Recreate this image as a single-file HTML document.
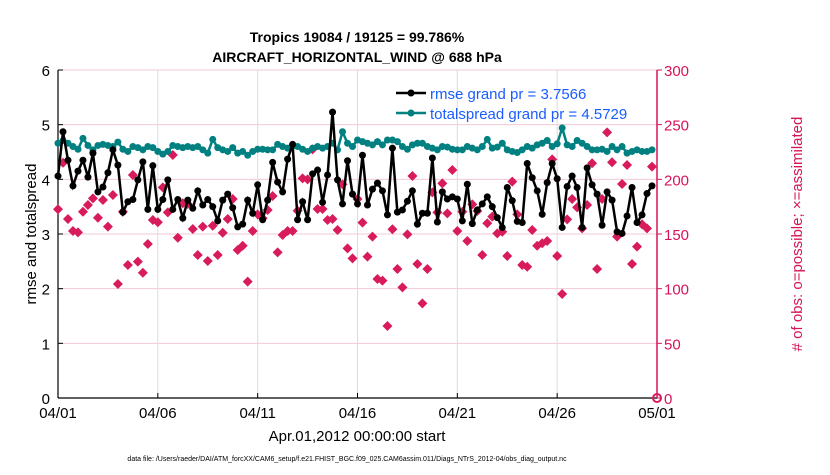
<!DOCTYPE html>
<html><head><meta charset="utf-8"><style>
body{margin:0;background:#fff;font-family:"Liberation Sans",sans-serif}
svg text{font-family:"Liberation Sans",sans-serif}
</style></head><body>
<svg id="c" width="830" height="470" viewBox="0 0 830 470" xmlns="http://www.w3.org/2000/svg">
<text x="357" y="42" text-anchor="middle" font-size="14" font-weight="bold">Tropics 19084 / 19125 = 99.786%</text>
<text x="357" y="62" text-anchor="middle" font-size="14" font-weight="bold">AIRCRAFT_HORIZONTAL_WIND @ 688 hPa</text>
<g id="grid"></g><g id="axes"></g><g id="series"></g>
<text x="357" y="441" text-anchor="middle" font-size="15">Apr.01,2012 00:00:00 start</text>
<text transform="translate(36,234) rotate(-90)" text-anchor="middle" font-size="15">rmse and totalspread</text>
<text transform="translate(802,234) rotate(-90)" text-anchor="middle" font-size="15" fill="#d6145a"># of obs: o=possible; ×=assimilated</text>
<text x="347" y="461" text-anchor="middle" font-size="7">data file: /Users/raeder/DAI/ATM_forcXX/CAM6_setup/f.e21.FHIST_BGC.f09_025.CAM6assim.011/Diags_NTrS_2012-04/obs_diag_output.nc</text>
<g>
<line x1="396" y1="93" x2="426" y2="93" stroke="#000" stroke-width="2.5"/><circle cx="411" cy="93" r="3.5" fill="#000"/>
<text x="430" y="99" font-size="15" fill="#1a5cff">rmse grand pr = 3.7566</text>
<line x1="396" y1="113" x2="426" y2="113" stroke="#008080" stroke-width="2.5"/><circle cx="411" cy="113" r="3.5" fill="#008080"/>
<text x="430" y="119" font-size="15" fill="#1a5cff">totalspread grand pr = 4.5729</text>
</g>
</svg>
<script>
const xTickLabels=["04/01","04/06","04/11","04/16","04/21","04/26","05/01"];
const xTickDays=[0,5,10,15,20,25,30];
const leftTicks=[0,1,2,3,4,5,6];
const rightTicks=[0,50,100,150,200,250,300];
const rmse=[4.06,4.87,4.35,3.88,4.15,4.35,4.04,4.48,3.77,3.86,4.12,4.54,4.26,3.40,3.59,3.63,3.99,4.32,3.45,4.25,3.45,3.63,3.99,3.45,3.63,3.29,3.62,3.47,3.79,3.53,3.63,3.50,3.24,3.62,3.73,3.48,3.13,3.18,3.62,3.38,3.90,3.26,
3.62,4.31,3.95,3.77,4.37,4.64,3.26,3.59,3.26,4.10,4.17,3.58,4.08,5.23,3.99,3.55,4.34,3.73,3.55,4.44,3.53,3.82,3.93,3.79,3.35,4.57,3.40,3.44,3.60,3.79,3.18,3.38,3.38,4.39,3.22,3.77,3.64,3.68,3.64,
3.24,3.91,3.19,3.44,3.55,3.68,3.50,3.30,3.12,3.85,3.61,3.23,3.21,4.29,4.03,3.79,3.36,3.94,4.29,4.01,3.12,3.87,4.06,3.85,3.12,4.21,3.90,3.73,3.16,3.77,3.62,3.04,3.01,3.33,3.85,3.21,3.35,3.74,3.88];
const spread=[4.66,4.71,4.66,4.60,4.55,4.75,4.62,4.54,4.62,4.64,4.62,4.60,4.68,4.55,4.51,4.60,4.58,4.54,4.60,4.58,4.51,4.46,4.51,4.62,4.60,4.58,4.60,4.58,4.60,4.54,4.48,4.73,4.58,4.54,4.51,4.58,4.48,4.51,4.44,4.51,4.55,4.55,
4.54,4.54,4.64,4.60,4.57,4.61,4.60,4.55,4.51,4.57,4.60,4.57,4.60,4.66,4.54,4.87,4.66,4.60,4.72,4.69,4.66,4.63,4.69,4.63,4.72,4.72,4.69,4.60,4.55,4.63,4.66,4.66,4.60,4.57,4.54,4.60,4.59,4.55,4.54,
4.54,4.60,4.57,4.54,4.60,4.73,4.57,4.59,4.66,4.54,4.51,4.49,4.54,4.60,4.57,4.63,4.66,4.71,4.60,4.65,4.94,4.63,4.60,4.71,4.66,4.60,4.54,4.54,4.55,4.51,4.60,4.54,4.60,4.48,4.51,4.54,4.51,4.51,4.54];
const obs=[172.6,215.2,163.7,152.7,151.5,170.3,176.5,182.6,164.9,181.1,156.7,185.7,104.3,170.3,121.6,204,124.7,114.6,140.9,162.8,160.7,192.7,169.8,222.3,146.6,178.1,177.4,154.6,130.8,156.7,125.3,157.6,130.8,151.2,163.7,182,135.4,139.3,106.4,152.7,168,164.4,
171.9,184.8,133.2,149.1,152.7,152.7,171.3,200.9,200,227.4,172.9,172.9,162.8,163.7,153.7,195.4,136.9,127.7,182,160.4,129.3,147.6,108.8,107.3,65.9,154.3,118,101.2,149.7,203.1,122.6,86.6,118,188.1,169.8,196.3,168.9,208.5,152.7,
170.4,143.6,177.1,171,130.8,159.8,165.9,150.6,152.1,129.9,197.9,168,121.6,120.1,153.7,139.3,141.5,143.6,218.3,129.9,95.1,163.4,182,174.4,155.2,176.5,214.7,118,182,243,215.6,147.6,195.7,213.1,122.6,138.4,158.9,155.2,211.6];

const X0=58,X1=657,Y0=398,Y1=70;
const xDay=d=>X0+(X1-X0)*d/30;
const yL=v=>Y0-(Y0-Y1)*v/6;
const yR=n=>Y0-(Y0-Y1)*n/300;
const NS="http://www.w3.org/2000/svg";
function mk(tag,attrs,parent,txt){const e=document.createElementNS(NS,tag);for(const k in attrs)e.setAttribute(k,attrs[k]);if(txt!==undefined)e.textContent=txt;parent.appendChild(e);return e;}
const grid=document.getElementById('grid'),axes=document.getElementById('axes'),ser=document.getElementById('series');
rightTicks.forEach((t,i)=>{
  const l=mk('line',{x1:X0,x2:X1,y1:yR(t),y2:yR(t),stroke:'#f3c9d8','stroke-width':1},grid);
  
  
  mk('line',{x1:X1,x2:X1+5,y1:yR(t),y2:yR(t),stroke:'#d6145a'},axes);
  const tx=mk('text',{x:X1+7,y:yR(t)+6,'font-size':15,fill:'#d6145a'},axes,String(t));
  
  
});
xTickDays.forEach((d,i)=>{
  if(i>0&&i<xTickDays.length-1){const g=mk('line',{x1:xDay(d),x2:xDay(d),y1:Y1,y2:Y0,stroke:'#dcdcdc'},grid);
  
  }
  mk('line',{x1:xDay(d),x2:xDay(d),y1:Y0,y2:Y0-5,stroke:'#000'},axes);
  const tx=mk('text',{x:xDay(d),y:Y0+20,'font-size':15,'text-anchor':'middle'},axes,xTickLabels[i]);
  
  
});
leftTicks.forEach(t=>{
  mk('line',{x1:X0,x2:X0+5,y1:yL(t),y2:yL(t),stroke:'#000'},axes);
  const tx=mk('text',{x:X0-8,y:yL(t)+6,'font-size':15,'text-anchor':'end'},axes,String(t));
  
  
});
mk('line',{x1:X0,x2:X0,y1:Y1,y2:Y0,stroke:'#000','stroke-width':1.2},axes);
mk('line',{x1:X0,x2:X1,y1:Y0,y2:Y0,stroke:'#000','stroke-width':1.2},axes);
mk('line',{x1:X1,x2:X1,y1:Y1,y2:Y0,stroke:'#d6145a','stroke-width':1.5},axes);
const xi=i=>xDay(i*0.25);
obs.forEach((n,i)=>{
  const x=xi(i),y=yR(n);
  const p=mk('path',{d:`M${x} ${y-5}L${x+5} ${y}L${x} ${y+5}L${x-5} ${y}Z`,fill:'#d81b5c'},ser);
  
  
});
const ez=mk('circle',{cx:X1,cy:Y0,r:4,fill:'none',stroke:'#d81b5c','stroke-width':2},ser);


function line(arr,color,name){
  const pts=arr.map((v,i)=>xi(i).toFixed(1)+','+yL(v).toFixed(1)).join(' ');
  const pl=mk('polyline',{points:pts,fill:'none',stroke:color,'stroke-width':2.5},ser);
  
  
  arr.forEach((v,i)=>{const c=mk('circle',{cx:xi(i),cy:yL(v),r:3.5,fill:color},ser);
    
    });
}
line(spread,'#008080','totalspread');
line(rmse,'#000000','rmse');
</script>
</body></html>
